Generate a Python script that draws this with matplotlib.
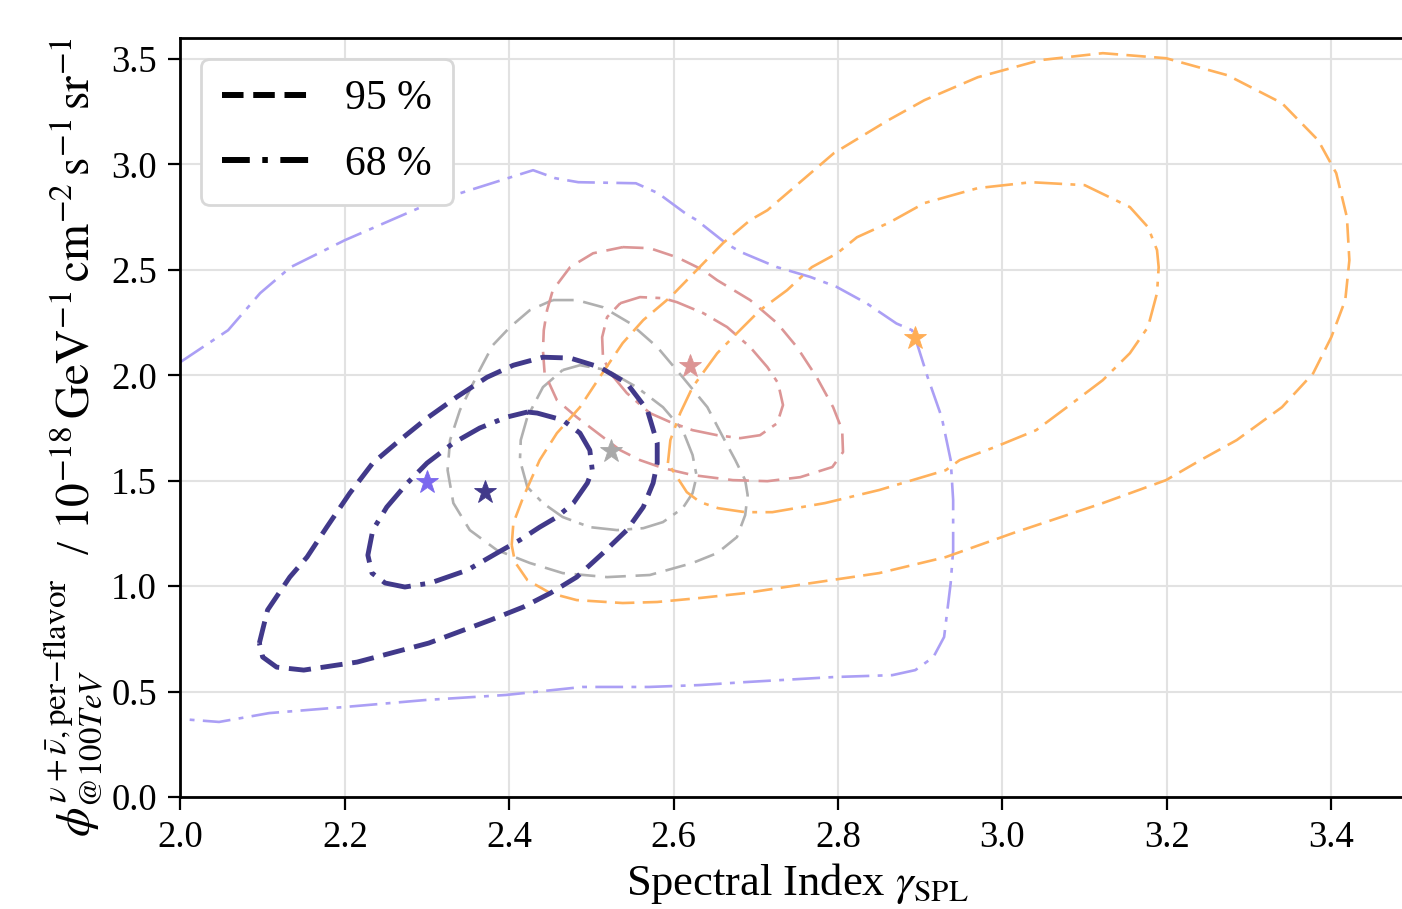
import numpy as np
import matplotlib
matplotlib.use("Agg")
import matplotlib.pyplot as plt
from matplotlib.lines import Line2D

plt.rcParams["font.family"] = ["Liberation Serif", "DejaVu Serif"]
plt.rcParams["mathtext.fontset"] = "stix"
plt.rcParams["lines.scale_dashes"] = False

# contour traces (gamma, flux) for each fit, 68 % and 95 % levels
wide_68_x = [2.000, 2.058, 2.097, 2.134, 2.200, 2.304, 2.325, 2.429, 2.456, 2.484, 2.554, 2.581,
             2.614, 2.628, 2.664, 2.681, 2.725, 2.766, 2.798, 2.835, 2.871, 2.890, 2.894,
             2.909, 2.926, 2.937, 2.940, 2.940, 2.937, 2.929, 2.916, 2.894, 2.866, 2.795, 2.687,
             2.632, 2.570, 2.489, 2.396, 2.298, 2.200, 2.108, 2.047, 2.000]
wide_68_y = [2.063, 2.214, 2.390, 2.513, 2.641, 2.817, 2.845, 2.973, 2.935, 2.916, 2.911, 2.864,
             2.769, 2.736, 2.625, 2.586, 2.514, 2.467, 2.420, 2.341, 2.246, 2.214, 2.176,
             1.991, 1.802, 1.598, 1.408, 1.171, 1.015, 0.759, 0.664, 0.602, 0.578, 0.569, 0.545,
             0.531, 0.522, 0.522, 0.484, 0.460, 0.427, 0.398, 0.356, 0.370]

navy_95_x = [2.096, 2.106, 2.133, 2.154, 2.178, 2.206, 2.234, 2.267, 2.300, 2.336, 2.373, 2.405,
             2.441, 2.474, 2.510, 2.543, 2.568, 2.580, 2.580, 2.575, 2.563, 2.543, 2.514, 2.482,
             2.450, 2.417, 2.377, 2.302, 2.215, 2.150, 2.117, 2.100]
navy_95_y = [0.730, 0.887, 1.043, 1.138, 1.280, 1.441, 1.584, 1.693, 1.797, 1.897, 1.991, 2.048,
             2.086, 2.082, 2.039, 1.963, 1.835, 1.679, 1.584, 1.489, 1.375, 1.266, 1.157, 1.043,
             0.967, 0.901, 0.839, 0.730, 0.640, 0.602, 0.616, 0.664]

navy_68_x = [2.422, 2.434, 2.465, 2.486, 2.498, 2.501, 2.495, 2.478, 2.458, 2.437, 2.413, 2.385,
             2.349, 2.304, 2.273, 2.249, 2.233, 2.228, 2.234, 2.251, 2.276, 2.300, 2.332, 2.364,
             2.397]
navy_68_y = [1.826, 1.821, 1.788, 1.726, 1.645, 1.550, 1.489, 1.394, 1.328, 1.280, 1.219, 1.157,
             1.076, 1.015, 0.996, 1.015, 1.062, 1.147, 1.266, 1.375, 1.489, 1.584, 1.679, 1.750,
             1.802]

gray_95_x = [2.453, 2.482, 2.514, 2.547, 2.580, 2.611, 2.641, 2.660, 2.675, 2.687, 2.690, 2.687,
             2.677, 2.653, 2.623, 2.571, 2.519, 2.465, 2.425, 2.385, 2.352, 2.332, 2.325, 2.328,
             2.340, 2.364, 2.380, 2.401, 2.425]
gray_95_y = [2.357, 2.357, 2.323, 2.247, 2.134, 1.991, 1.849, 1.707, 1.598, 1.503, 1.432, 1.337,
             1.233, 1.157, 1.110, 1.053, 1.043, 1.062, 1.110, 1.171, 1.266, 1.394, 1.550, 1.693,
             1.835, 2.025, 2.143, 2.229, 2.309]

gray_68_x = [2.465, 2.486, 2.519, 2.555, 2.587, 2.611, 2.623, 2.628, 2.623, 2.611, 2.587, 2.563,
             2.531, 2.498, 2.465, 2.441, 2.422, 2.413, 2.414, 2.422, 2.441]
gray_68_y = [2.025, 2.048, 2.025, 1.944, 1.849, 1.740, 1.622, 1.522, 1.441, 1.370, 1.304, 1.275,
             1.266, 1.280, 1.328, 1.394, 1.470, 1.598, 1.693, 1.802, 1.944]

pink_95_x = [2.538, 2.571, 2.604, 2.636, 2.653, 2.693, 2.726, 2.750, 2.774, 2.794, 2.805, 2.806,
             2.793, 2.754, 2.714, 2.672, 2.623, 2.587, 2.559, 2.535, 2.514, 2.482, 2.458, 2.443,
             2.441, 2.442, 2.446, 2.453, 2.474, 2.502]
pink_95_y = [2.608, 2.603, 2.560, 2.499, 2.451, 2.357, 2.247, 2.134, 1.991, 1.849, 1.740, 1.636,
             1.565, 1.517, 1.498, 1.503, 1.527, 1.560, 1.598, 1.645, 1.707, 1.802, 1.882, 2.010,
             2.119, 2.214, 2.309, 2.404, 2.513, 2.579]

pink_68_x = [2.535, 2.559, 2.587, 2.604, 2.636, 2.665, 2.693, 2.714, 2.727, 2.733, 2.726, 2.705,
             2.681, 2.653, 2.623, 2.596, 2.571, 2.543, 2.523, 2.514, 2.513, 2.519]
pink_68_y = [2.342, 2.371, 2.366, 2.347, 2.295, 2.229, 2.134, 2.039, 1.963, 1.859, 1.773, 1.716,
             1.702, 1.716, 1.740, 1.778, 1.821, 1.916, 2.010, 2.086, 2.181, 2.276]

orange_95_x = [2.403, 2.405, 2.417, 2.437, 2.458, 2.486, 2.510, 2.538, 2.563, 2.596, 2.628, 2.660,
               2.693, 2.714, 2.795, 2.861, 2.905, 2.970, 3.046, 3.122, 3.199, 3.274, 3.340, 3.384,
               3.406, 3.419, 3.422, 3.417, 3.400, 3.378, 3.340, 3.285, 3.241, 3.199, 3.122, 3.013,
               2.931, 2.850, 2.768, 2.687, 2.632, 2.580, 2.538, 2.482, 2.450, 2.422, 2.407]
orange_95_y = [1.195, 1.299, 1.422, 1.598, 1.726, 1.849, 1.991, 2.153, 2.262, 2.371, 2.499, 2.627,
               2.736, 2.783, 3.054, 3.210, 3.305, 3.414, 3.495, 3.528, 3.504, 3.423, 3.291, 3.115,
               2.959, 2.750, 2.546, 2.357, 2.181, 2.010, 1.849, 1.693, 1.598, 1.503, 1.394, 1.252,
               1.138, 1.062, 1.015, 0.967, 0.944, 0.925, 0.920, 0.934, 0.967, 1.029, 1.114]

orange_68_x = [2.593, 2.596, 2.608, 2.623, 2.653, 2.677, 2.705, 2.738, 2.768, 2.799, 2.823, 2.863,
               2.905, 2.970, 3.035, 3.100, 3.155, 3.177, 3.188, 3.190, 3.188, 3.177, 3.155, 3.122,
               3.085, 3.041, 2.991, 2.948, 2.931, 2.850, 2.784, 2.720, 2.687, 2.654, 2.632, 2.616]
orange_68_y = [1.584, 1.693, 1.821, 1.944, 2.105, 2.200, 2.309, 2.404, 2.513, 2.579, 2.655, 2.726,
               2.817, 2.888, 2.916, 2.902, 2.798, 2.703, 2.594, 2.513, 2.390, 2.229, 2.105, 1.977,
               1.868, 1.740, 1.660, 1.598, 1.550, 1.456, 1.394, 1.351, 1.351, 1.370, 1.399, 1.446]

# best-fit points
best_x = [2.300, 2.370, 2.524, 2.620, 2.894]
best_y = [1.495, 1.448, 1.641, 2.044, 2.176]
best_colors = ["#7b68ee", "#41398a", "#a9a9a9", "#dc9494", "#ffad55"]

DASHED = (0, (15, 7))
DASHDOT = (0, (20, 6, 3.5, 6))
THICK_DASHED = (0, (16, 7))
THICK_DASHDOT = (0, (21, 7, 3.5, 7))


def closed(x, y):
    return list(x) + [x[0]], list(y) + [y[0]]


fig = plt.figure(figsize=(14.02, 9.09), dpi=100)
ax = fig.add_axes([0.1287, 0.1232, 0.8795, 0.835])

ax.plot(wide_68_x, wide_68_y, color="#ab9ff5", lw=1.9, linestyle=DASHDOT)

for xs, ys, ls in [(gray_95_x, gray_95_y, DASHED), (gray_68_x, gray_68_y, DASHDOT)]:
    ax.plot(*closed(xs, ys), color="#b0b0b0", lw=1.9, linestyle=ls)

for xs, ys, ls in [(pink_95_x, pink_95_y, DASHED), (pink_68_x, pink_68_y, DASHDOT)]:
    ax.plot(*closed(xs, ys), color="#dc9696", lw=1.9, linestyle=ls)

for xs, ys, ls in [(orange_95_x, orange_95_y, (0, (14, 6))), (orange_68_x, orange_68_y, DASHDOT)]:
    ax.plot(*closed(xs, ys), color="#ffb15c", lw=1.9, linestyle=ls)

ax.plot(*closed(navy_95_x, navy_95_y), color="#41398a", lw=3.5, linestyle=THICK_DASHED)
ax.plot(*closed(navy_68_x, navy_68_y), color="#41398a", lw=3.5, linestyle=THICK_DASHDOT)

for bx, by, c in zip(best_x, best_y, best_colors):
    ax.plot(bx, by, marker="*", ms=17, color=c, mec=c, mew=0.6, zorder=5)

ax.set_xlim(2.0, 3.5)
ax.set_ylim(0.0, 3.6)
ax.set_xticks(np.arange(2.0, 3.41, 0.2))
ax.set_yticks(np.arange(0.0, 3.51, 0.5))
ax.grid(True, color="#e2e2e2", lw=1.5)
ax.set_axisbelow(True)

for side in ["left", "bottom", "top", "right"]:
    ax.spines[side].set_linewidth(2.0)
ax.tick_params(axis="both", which="major", labelsize=26.5, length=9, width=1.6,
               direction="out", top=False, right=False)
ax.tick_params(axis="x", pad=8)
ax.tick_params(axis="y", pad=8)

ax.set_xlabel(r"Spectral Index $\gamma_{\mathrm{SPL}}$", fontsize=32, labelpad=4)
fig.text(0.052, 0.519,
         r"$\phi^{\nu+\bar{\nu},\mathrm{per\!-\!flavor}}_{@100TeV}$  / $10^{-18}\,\mathrm{GeV}^{-1}\,"
         r"\mathrm{cm}^{-2}\,\mathrm{s}^{-1}\,\mathrm{sr}^{-1}$",
         rotation=90, ha="center", va="center", fontsize=34)

handles = [Line2D([], [], color="black", lw=4.3, linestyle=(0, (15.5, 7))),
           Line2D([], [], color="black", lw=4.3, linestyle=(0, (20, 9, 4, 9)))]
leg = ax.legend(handles, ["95 %", "68 %"], loc="upper left", fontsize=30,
                handlelength=2.1, handletextpad=0.85, labelspacing=0.65,
                borderpad=0.5, borderaxespad=0.5, framealpha=1.0, fancybox=True)
leg.get_frame().set_edgecolor("#d8d8d8")
leg.get_frame().set_linewidth(2.0)

fig.savefig("out.png", dpi=100)
